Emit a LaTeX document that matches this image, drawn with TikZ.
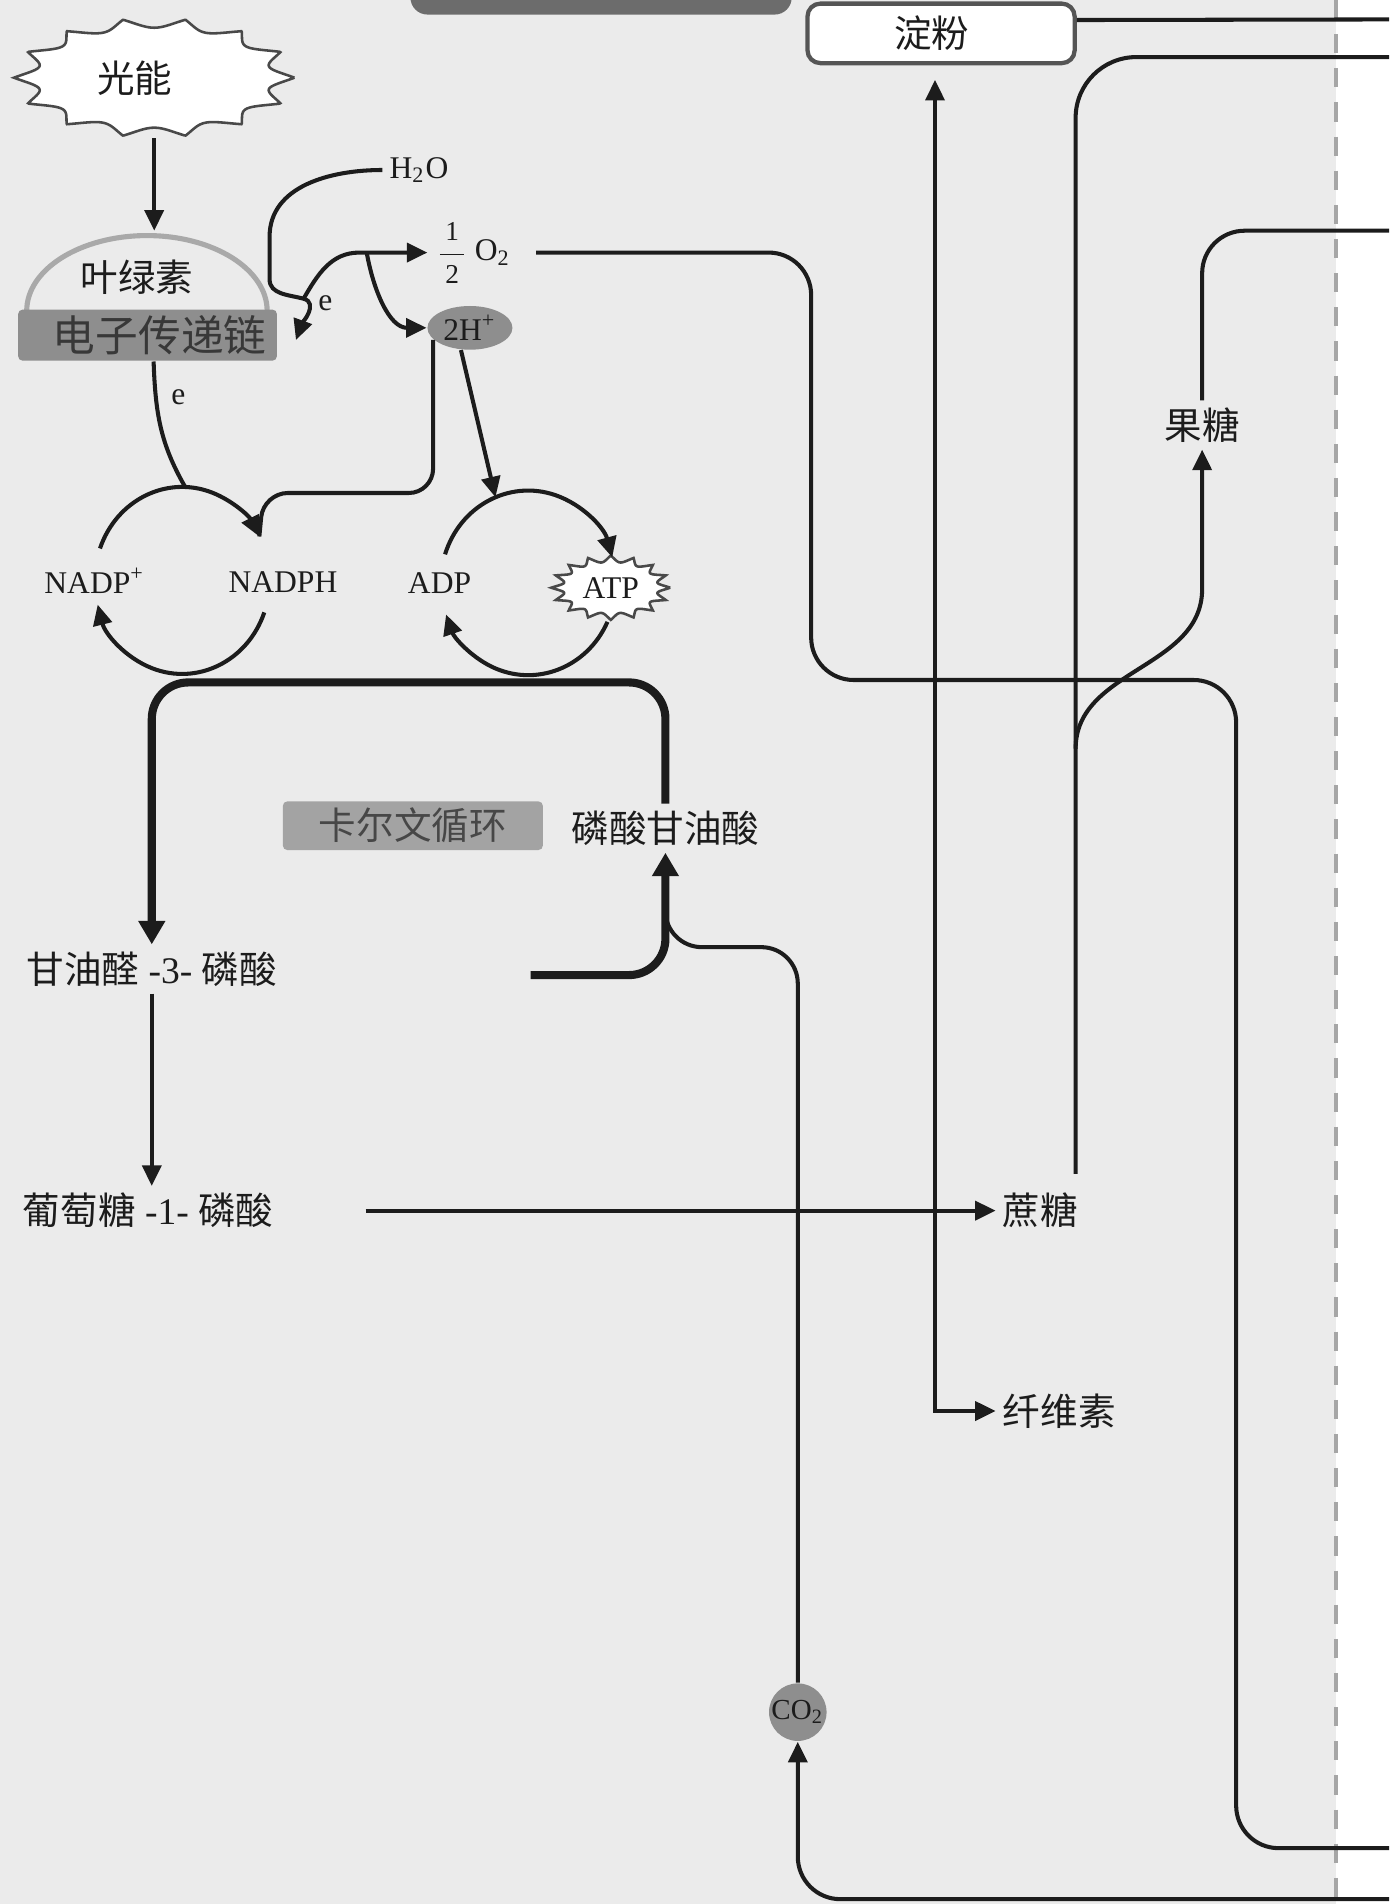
\documentclass[tikz,border=0pt]{standalone}
\usepackage{amsmath}
\usepackage{fontspec}
\setmainfont{Liberation Serif}
\newfontfamily\cjk{Noto Sans CJK SC}
\usepackage{tikz}
\usetikzlibrary{positioning,arrows.meta,calc,shapes.geometric}
\definecolor{ink}{HTML}{1C1C1C}
\definecolor{paper}{HTML}{EBEBEB}
\definecolor{shade}{HTML}{8E8E8E}
\definecolor{barfill}{HTML}{6C6C6C}
\definecolor{chlgray}{HTML}{A9A9A9}

\begin{document}
\begin{tikzpicture}[
    line/.style={draw=ink, line width=0.95pt},
    arr/.style={line, -{Triangle[length=4.8pt,width=4.4pt]}},
    both/.style={line, {Triangle[length=4.8pt,width=4.4pt]}-{Triangle[length=4.8pt,width=4.4pt]}},
    bigarr/.style={draw=ink, line width=1.9pt, rounded corners=0.3cm, -{Triangle[length=5.5pt,width=6pt]}},
    zh/.style={font=\cjk\fontsize{8.8}{10}\selectfont, text=ink, inner sep=1.5pt},
    en/.style={font=\fontsize{7.4}{9}\selectfont, text=ink, inner sep=1.5pt},
    greybox/.style={zh, fill=shade, rounded corners=1pt, inner sep=0pt},
    blob/.style={en, ellipse, fill=shade, inner sep=0pt},
    burst/.style={draw=ink!80, line width=0.6pt, fill=white},
    declare function={spike(\pp,\nn,\hh)=1-\hh*abs(sin(\nn*\pp));},
  ]
  \useasboundingbox (0,0) rectangle (11.44,-15.68);
  \clip (0,0) rectangle (11.44,-15.68);
  % paper and frame
  \fill[paper] (0,0) rectangle (11.0,-15.68);
  \fill[barfill, rounded corners=0.14cm] (3.38,0.3) rectangle (6.52,-0.12);
  \draw[gray!70, line width=0.9pt, dash pattern=on 4.5pt off 3.5pt] (11.0,0) -- (11.0,-15.68);

  % light reactions
  \coordinate (sun) at (1.27,-0.64);
  \draw[burst, shift={(sun)}] plot[domain=0:360, samples=721]
    ({1.155*cos(\x)*spike(\x,7,0.16)}, {0.49*sin(\x)*spike(\x,7,0.16)});
  \node[zh, minimum width=2.31cm, minimum height=0.98cm] (guang) at (sun) {光能\kern0.32cm};
  \draw[chlgray, line width=1.2pt] (0.22,-2.56) arc[start angle=180, end angle=0, x radius=0.99, y radius=0.62];
  \node[zh] (yelv) at (1.13,-2.28) {叶绿素};
  \node[greybox, font=\cjk\fontsize{10}{12}\selectfont, text=black!78, minimum width=2.13cm, minimum height=0.42cm] (etc) at (1.215,-2.76) {\kern0.2cm电子传递链};
  \coordinate (chltop) at (1.27,-1.90);
  \draw[arr] (guang.south) -- (chltop);

  \node[en] (water) at (3.45,-1.40) {H\textsubscript{2}O};
  \node[en, anchor=west] (oxy) at (3.52,-2.08) {{\fontsize{6.4}{7}\selectfont$\dfrac{\,\text{1}\,}{\,\text{2}\,}$}\,O\textsubscript{2}};
  \node[blob, minimum width=0.70cm, minimum height=0.36cm] (hplus) at (3.87,-2.70) {2H\textsuperscript{+}};
  \coordinate (split) at (2.50,-2.46);
  \coordinate (bra) at (3.02,-2.08);
  \draw[arr] (water.west) to[out=180,in=90] (2.22,-1.95) -- (2.22,-2.30)
    to[out=-90,in=165] (split) to[out=-15,in=70] ([xshift=1.5mm,yshift=-0.4mm]etc.east);
  \node[en] (elbl1) at (2.68,-2.50) {e};
  \draw[arr] (split) to[out=60,in=180] (2.96,-2.08) -- (oxy.west);
  \draw[arr] (bra) to[out=-80,in=180] (hplus.west);

  % NADP and ATP cycles
  \coordinate (nadpc) at (1.50,-4.78);
  \coordinate (atpc) at (4.35,-4.80);
  \node[en] (nadp) at (0.78,-4.78) {NADP\textsuperscript{+}};
  \node[en] (nadph) at (2.33,-4.79) {NADPH};
  \node[en] (adp) at (3.62,-4.80) {ADP};
  \coordinate (atpmid) at (5.03,-4.84);
  \draw[burst, shift={(atpmid)}] plot[domain=0:360, samples=721]
    ({0.49*cos(\x)*spike(\x,8,0.2)}, {0.265*sin(\x)*spike(\x,8,0.2)});
  \node[en, minimum width=0.98cm, minimum height=0.53cm] (atp) at (atpmid) {ATP};
  \coordinate (nadphin) at ($(nadpc)+(28:0.72cm and 0.77cm)$);
  \coordinate (nadptop) at ($(nadpc)+(88:0.72cm and 0.77cm)$);
  \coordinate (atpin) at ($(atpc)+(112:0.72cm and 0.76cm)$);
  \draw[arr] ($(nadpc)+(160:0.72cm and 0.77cm)$) arc[start angle=160, end angle=28, x radius=0.72cm, y radius=0.77cm];
  \draw[arr] ($(nadpc)+(-20:0.72cm and 0.77cm)$) arc[start angle=-20, end angle=-165, x radius=0.72cm, y radius=0.77cm];
  \draw[arr] ($(atpc)+(162:0.72cm and 0.76cm)$) arc[start angle=162, end angle=16, x radius=0.72cm, y radius=0.76cm];
  \draw[arr] ($(atpc)+(-25:0.72cm and 0.76cm)$) arc[start angle=-25, end angle=-160, x radius=0.72cm, y radius=0.76cm];
  \draw[line] ([xshift=0.5mm]etc.south) to[out=-88,in=120] (nadptop);
  \node[en] (elbl2) at (1.47,-3.27) {e};
  \draw[line, rounded corners=0.2cm] (hplus.-162) |- (2.17,-4.06) -- (nadphin);
  \draw[arr] (hplus.-112) -- (atpin);

  % Calvin cycle
  \node[greybox, text=black!72, fill=black!36, minimum width=2.14cm, minimum height=0.40cm] (calvin) at (3.40,-6.80) {卡尔文循环};
  \node[zh] (pga) at (5.48,-6.82) {磷酸甘油酸};
  \node[zh] (gap) at (1.25,-7.98) {甘油醛{\rmfamily\ -3-\ }磷酸};
  \node[zh] (gone) at (1.22,-9.97) {葡萄糖{\rmfamily\ -1-\ }磷酸};
  \coordinate (calvtop) at (1.25,-5.62);
  \draw[bigarr] (pga.north) |- (calvtop) -- (gap.north);
  \coordinate (pgain) at (4.37,-8.03);
  \draw[bigarr] (pgain) -| (pga.south);

  \node[blob, circle, font=\fontsize{6.8}{8}\selectfont, minimum size=0.46cm] (co2) at (6.57,-14.10) {CO\textsubscript{2}};
  \coordinate (merge) at (5.48,-7.62);
  \draw[line, rounded corners=0.3cm] (co2.north) |- ([yshift=-1.8mm]merge) -- (merge);
  \coordinate (botin) at (11.44,-15.64);
  \draw[arr, rounded corners=0.35cm] (botin) -| (co2.south);

  % sugars
  \node[zh, anchor=west] (sucr) at (8.20,-9.97) {蔗糖};
  \node[zh, anchor=west] (cellu) at (8.20,-11.62) {纤维素};
  \node[zh] (fruc) at (9.90,-3.50) {果糖};
  \node[zh, draw=ink!75, line width=1pt, fill=white, rounded corners=3pt, minimum width=2.2cm, minimum height=0.49cm] (starch) at (7.75,-0.275) {淀粉\kern0.15cm};
  \draw[arr] (gap.south) -- (gap.south |- gone.north);
  \draw[arr] ([xshift=7mm]gone.east) -- (sucr.west);
  \draw[both, shorten <=1.2mm] ([xshift=-0.5mm]starch.south) |- (cellu.west);

  \coordinate (rtop1) at (11.44,-0.16);
  \coordinate (rtop2) at (11.44,-0.47);
  \coordinate (rtop3) at (11.44,-1.90);
  \coordinate (rbot1) at (11.44,-15.22);
  \coordinate (sucup) at ([xshift=-0.8mm,yshift=1mm]sucr.north east);
  \coordinate (fork) at ($(sucup)+(0,3.5)$);
  \draw[line] ([yshift=1.1mm]starch.east) -- (rtop1);
  \draw[line, rounded corners=0.5cm] (sucup) |- (rtop2);
  \draw[arr] (fork) to[out=90,in=-90] (9.90,-4.85) -- (fruc.south);
  \draw[line, rounded corners=0.35cm] (fruc.north) |- (rtop3);
  \draw[line, rounded corners=0.35cm] ([xshift=1.5mm]oxy.east) -| (6.68,-5.60) -| (10.18,-15.22) -- (rbot1);
\end{tikzpicture}
\end{document}
